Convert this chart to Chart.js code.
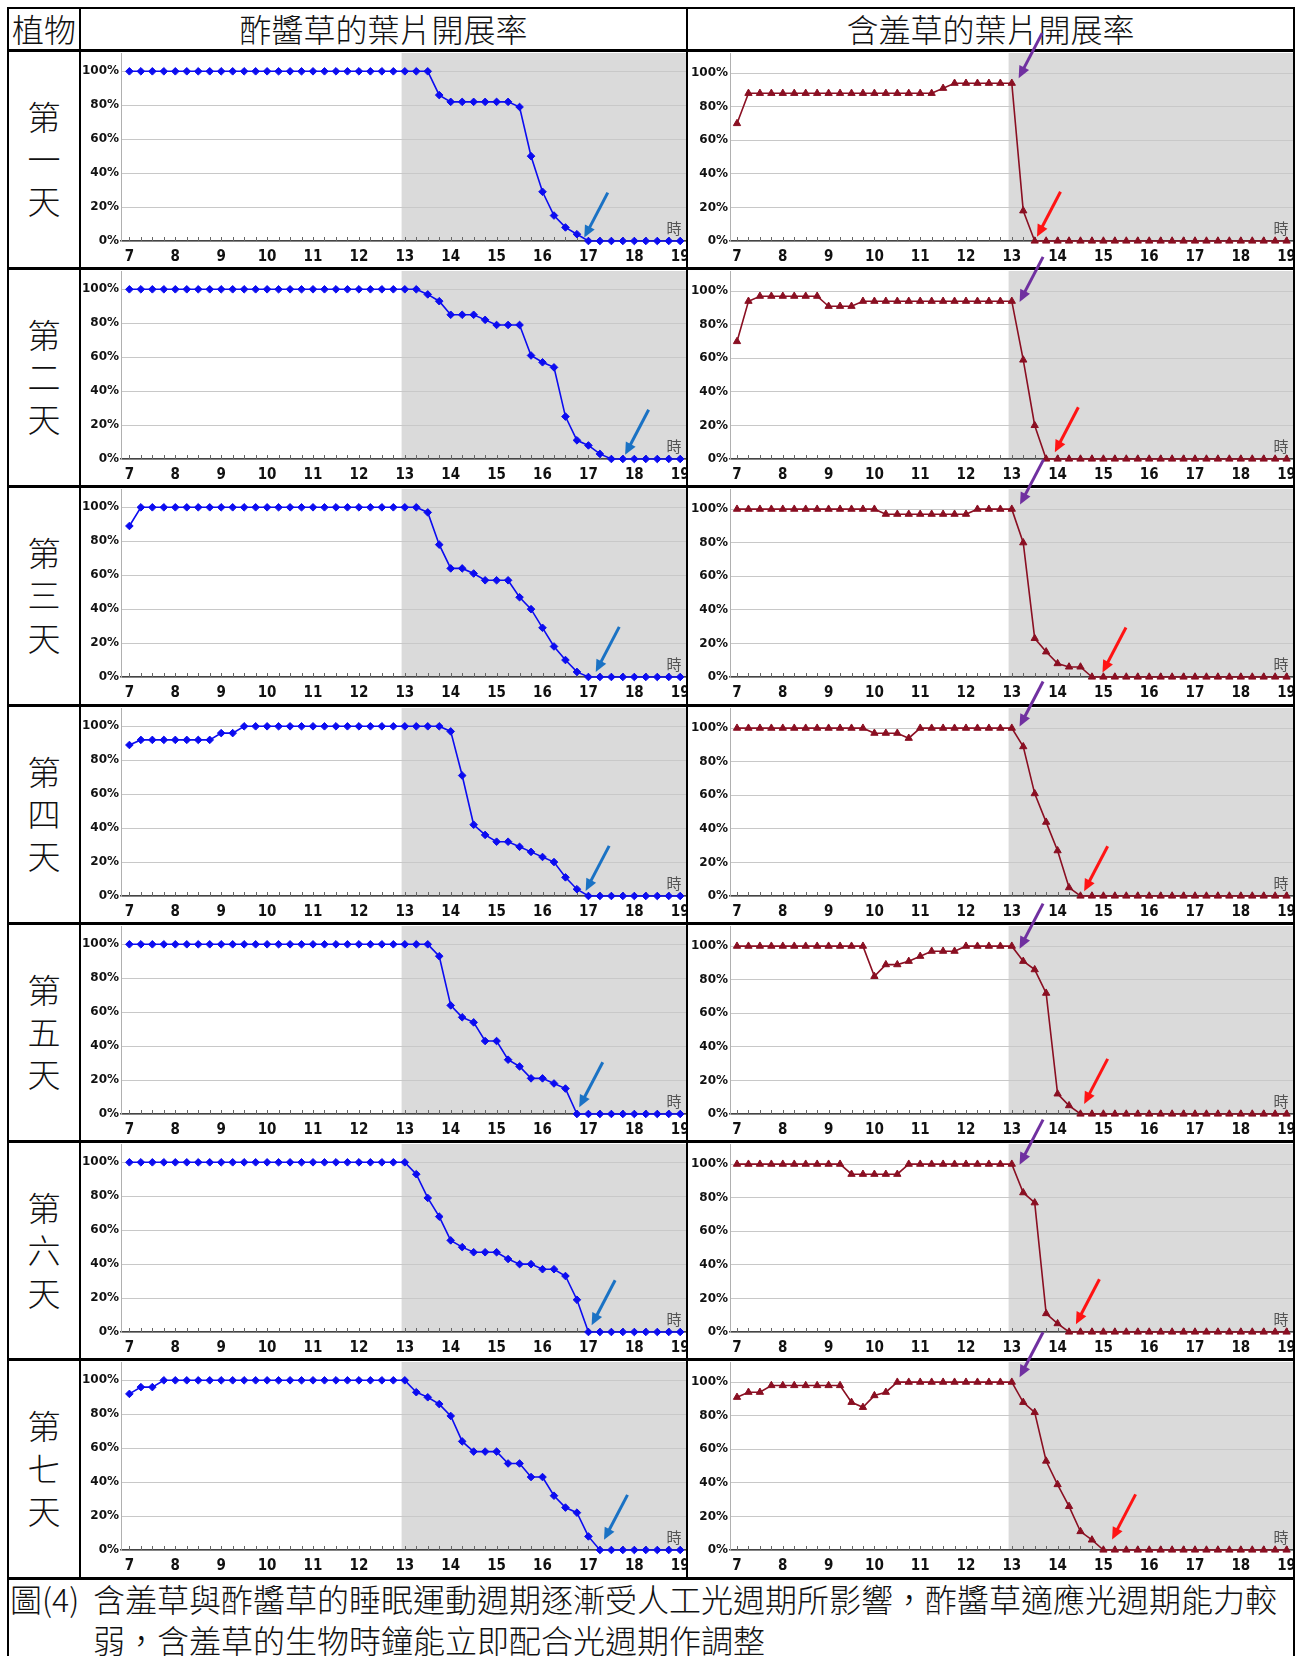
<!DOCTYPE html>
<html><head><meta charset="utf-8">
<script src="https://cdn.jsdelivr.net/npm/chart.js@4/dist/chart.umd.min.js"></script>
<style>
html,body{margin:0;padding:0;background:#fff;}
body{width:1302px;height:1656px;overflow:hidden;position:relative;font-family:"Noto Sans CJK TC","Noto Sans CJK SC",sans-serif;color:#111;font-weight:300;}
.ln{position:absolute;background:#000;}
.txt{position:absolute;text-align:center;white-space:nowrap;}
canvas.panel{position:absolute;}
#overlay{position:absolute;left:0;top:0;pointer-events:none;z-index:10;}
</style></head><body>
<script>
// ---------- data ----------
const times = [7,7.25,7.5,7.75, 8,8.25,8.5,8.75, 9,9.25,9.5,9.75, 10,10.25,10.5,10.75, 11,11.25,11.5,11.75, 12,12.25,12.5,12.75, 13,13.25,13.5,13.75, 14,14.25,14.5,14.75, 15,15.25,15.5,15.75, 16,16.25,16.5,16.75, 17,17.25,17.5,17.75, 18,18.25,18.5,18.75, 19];
const xTickHours = [7,8,9,10,11,12,13,14,15,16,17,18,19];
const yTickPct = [0,20,40,60,80,100];
const darkStart = 12.93;
const plantHeader = "植物";
const colTitles = ["酢醬草的葉片開展率","含羞草的葉片開展率"];
const dayLabels = ["第一天","第二天","第三天","第四天","第五天","第六天","第七天"];
const hourUnit = "時";
const captionLabel = "圖(4)";
const captionLines = ["含羞草與酢醬草的睡眠運動週期逐漸受人工光週期所影響，酢醬草適應光週期能力較","弱，含羞草的生物時鐘能立即配合光週期作調整"];

// 酢醬草 (Oxalis) – % leaf opening, every 15 min 7:00–19:00
const oxalis1 = [100,100,100,100, 100,100,100,100, 100,100,100,100, 100,100,100,100, 100,100,100,100, 100,100,100,100, 100,100,100,86, 82,82,82,82, 82,82,79,50, 29,15,8,4, 0,0,0,0, 0,0,0,0, 0];
const oxalis2 = [100,100,100,100, 100,100,100,100, 100,100,100,100, 100,100,100,100, 100,100,100,100, 100,100,100,100, 100,100,97,93, 85,85,85,82, 79,79,79,61, 57,54,25,11, 8,3,0,0, 0,0,0,0, 0];
const oxalis3 = [89,100,100,100, 100,100,100,100, 100,100,100,100, 100,100,100,100, 100,100,100,100, 100,100,100,100, 100,100,97,78, 64,64,61,57, 57,57,47,40, 29,18,10,3, 0,0,0,0, 0,0,0,0, 0];
const oxalis4 = [89,92,92,92, 92,92,92,92, 96,96,100,100, 100,100,100,100, 100,100,100,100, 100,100,100,100, 100,100,100,100, 97,71,42,36, 32,32,29,26, 23,20,11,4, 0,0,0,0, 0,0,0,0, 0];
const oxalis5 = [100,100,100,100, 100,100,100,100, 100,100,100,100, 100,100,100,100, 100,100,100,100, 100,100,100,100, 100,100,100,93, 64,57,54,43, 43,32,28,21, 21,18,15,0, 0,0,0,0, 0,0,0,0, 0];
const oxalis6 = [100,100,100,100, 100,100,100,100, 100,100,100,100, 100,100,100,100, 100,100,100,100, 100,100,100,100, 100,93,79,68, 54,50,47,47, 47,43,40,40, 37,37,33,19, 0,0,0,0, 0,0,0,0, 0];
const oxalis7 = [92,96,96,100, 100,100,100,100, 100,100,100,100, 100,100,100,100, 100,100,100,100, 100,100,100,100, 100,93,90,86, 79,64,58,58, 58,51,51,43, 43,32,25,22, 8,0,0,0, 0,0,0,0, 0];

// 含羞草 (Mimosa)
const mimosa1 = [70,88,88,88, 88,88,88,88, 88,88,88,88, 88,88,88,88, 88,88,91,94, 94,94,94,94, 94,18,0,0, 0,0,0,0, 0,0,0,0, 0,0,0,0, 0,0,0,0, 0,0,0,0, 0];
const mimosa2 = [70,94,97,97, 97,97,97,97, 91,91,91,94, 94,94,94,94, 94,94,94,94, 94,94,94,94, 94,59,20,0, 0,0,0,0, 0,0,0,0, 0,0,0,0, 0,0,0,0, 0,0,0,0, 0];
const mimosa3 = [100,100,100,100, 100,100,100,100, 100,100,100,100, 100,97,97,97, 97,97,97,97, 97,100,100,100, 100,80,23,15, 8,6,6,0, 0,0,0,0, 0,0,0,0, 0,0,0,0, 0,0,0,0, 0];
const mimosa4 = [100,100,100,100, 100,100,100,100, 100,100,100,100, 97,97,97,94, 100,100,100,100, 100,100,100,100, 100,89,61,44, 27,5,0,0, 0,0,0,0, 0,0,0,0, 0,0,0,0, 0,0,0,0, 0];
const mimosa5 = [100,100,100,100, 100,100,100,100, 100,100,100,100, 82,89,89,91, 94,97,97,97, 100,100,100,100, 100,91,86,72, 12,5,0,0, 0,0,0,0, 0,0,0,0, 0,0,0,0, 0,0,0,0, 0];
const mimosa6 = [100,100,100,100, 100,100,100,100, 100,100,94,94, 94,94,94,100, 100,100,100,100, 100,100,100,100, 100,83,77,11, 5,0,0,0, 0,0,0,0, 0,0,0,0, 0,0,0,0, 0,0,0,0, 0];
const mimosa7 = [91,94,94,98, 98,98,98,98, 98,98,88,85, 92,94,100,100, 100,100,100,100, 100,100,100,100, 100,88,82,53, 39,26,11,6, 0,0,0,0, 0,0,0,0, 0,0,0,0, 0,0,0,0, 0];

const oxalisDays = [oxalis1,oxalis2,oxalis3,oxalis4,oxalis5,oxalis6,oxalis7];
const mimosaDays = [mimosa1,mimosa2,mimosa3,mimosa4,mimosa5,mimosa6,mimosa7];

// arrow annotations (hour, % where each arrow points)
const blueArrowHour = [16.91,17.80,17.16,16.94,16.80,17.07,17.34];
const blueArrowPct  = [2,2.5,3,3,4,4,6];
const redArrowHour  = [13.55,13.94,14.98,14.58,14.58,14.40,15.19];
const redArrowPct   = [2.5,4,2.7,2.8,6,4.6,6.3];
const purpleArrowHour = [13.15,13.17,13.18,13.17,13.17,13.17,13.17];
const purpleArrowPct  = [97,93.6,102.7,101,98.5,99.7,102.9];

// ---------- layout ----------
const W = 1302, H = 1656;
const tableL = 7, tableR = 1295, tableTop = 7;
const col1 = 79, col2 = 686;
const rowTop0 = 49.6, rowH = 218.3;
const rowTops = [0,1,2,3,4,5,6,7].map(k => rowTop0 + rowH*k);

function addLine(x,y,w,h){const d=document.createElement('div');d.className='ln';Object.assign(d.style,{left:x+'px',top:y+'px',width:w+'px',height:h+'px'});document.body.appendChild(d);}
function addText(txt,x,y,w,h,size,lh,align){const d=document.createElement('div');d.className='txt';Object.assign(d.style,{left:x+'px',top:y+'px',width:w+'px',height:h+'px',fontSize:size+'px',lineHeight:lh+'px',textAlign:align||'center'});d.innerHTML=txt;document.body.appendChild(d);return d;}

// borders
addLine(tableL, tableTop, tableR-tableL, 2);
rowTops.forEach(r => addLine(tableL, Math.round(r)-1, tableR-tableL, 3));
addLine(tableL, tableTop, 2, H);
addLine(tableR-2, tableTop, 2, H);
addLine(col1, tableTop, 2, Math.round(rowTops[7])-tableTop);
addLine(col2, tableTop, 2, Math.round(rowTops[7])-tableTop);

// header
addText(plantHeader, tableL+2, 9, col1-tableL-2, 39, 32, 39);
addText(colTitles[0], col1+2, 9, col2-col1-2, 39, 32, 39);
addText(colTitles[1], col2+2, 9, tableR-col2-4, 39, 32, 39);

// row labels
dayLabels.forEach((lab,k)=>{
  addText(lab.split('').join('<br>'), tableL+2, rowTops[k]+45, col1-tableL-2, 130, 33, 42.3);
});

// caption
addText(captionLabel, 10, 1578, 80, 41, 32, 41, 'left');
addText(captionLines.join('<br>'), 93, 1578, 1200, 82, 32, 41, 'left');

// ---------- charts ----------
Chart.defaults.font.family = "DejaVu Sans";
const xTickFont = {family:"'Liberation Sans Narrow', 'DejaVu Sans Condensed', 'DejaVu Sans'", weight:'bold', size:15};
const yTickFont = {family:"DejaVu Sans", weight:'bold', size:12};

const shadePlugin = {
  id:'shade',
  beforeDraw(chart){
    const {ctx, chartArea:a, scales:{x}} = chart;
    const x0 = x.getPixelForValue(darkStart);
    ctx.save(); ctx.fillStyle = '#dadada';
    ctx.fillRect(x0, 0, a.right - x0, a.bottom);
    ctx.restore();
  },
  beforeDatasetsDraw(chart){
    const {ctx, chartArea:a, scales:{x}} = chart;
    ctx.save(); ctx.strokeStyle = '#666'; ctx.lineWidth = 1;
    times.forEach(t=>{
      const px = Math.round(x.getPixelForValue(t))+0.5;
      ctx.beginPath(); ctx.moveTo(px, a.bottom); ctx.lineTo(px, a.bottom-4); ctx.stroke();
    });
    ctx.restore();
  },
  afterDraw(chart){
    const {ctx, chartArea:a} = chart;
    ctx.save(); ctx.fillStyle = '#555'; ctx.font = '15px "Noto Sans CJK TC"';
    ctx.textAlign = 'center'; ctx.textBaseline = 'middle';
    ctx.fillText(hourUnit, a.right - 12, a.bottom - 13);
    ctx.restore();
  }
};

const CW = 605, CH = 213, AXIS_Y = 188;
function makeChart(left, top, values, isOxalis){
  const cv = document.createElement('canvas');
  cv.className = 'panel'; cv.width = CW; cv.height = CH;
  cv.style.left = left+'px'; cv.style.top = top+'px';
  cv.style.width = CW+'px'; cv.style.height = CH+'px';
  document.body.appendChild(cv);
  const color = isOxalis ? '#0c0cf0' : '#8a0f22';
  return new Chart(cv, {
    type:'line',
    data:{ datasets:[{
      data: times.map((t,i)=>({x:t, y:values[i]})),
      borderColor: color, backgroundColor: color,
      borderWidth: 1.6, tension: 0, clip: false,
      pointStyle: isOxalis ? 'rectRot' : 'triangle',
      pointRadius: isOxalis ? 3.8 : 4.2, pointBorderWidth: 1,
      pointBorderColor: color, pointBackgroundColor: color
    }]},
    options:{
      responsive:false, animation:false, events:[], devicePixelRatio:1,
      layout:{padding:0, autoPadding:false},
      plugins:{legend:{display:false}, tooltip:{enabled:false}},
      scales:{
        x:{ type:'linear', min: isOxalis ? 6.817 : 6.847, max: isOxalis ? 19.126 : 19.14,
            afterBuildTicks: s => { s.ticks = xTickHours.map(v=>({value:v})); },
            ticks:{ font:xTickFont, color:'#111', padding:7, maxRotation:0, autoSkip:false, callback:v=>String(v) },
            grid:{ display:false, drawTicks:false },
            border:{ display:true, color:'#444', width:1.5 },
            afterFit: s => { s.height = CH - AXIS_Y; s.paddingLeft = 0; s.paddingRight = 0; } },
        y:{ min:0, max: isOxalis ? 110.8 : 112,
            afterBuildTicks: s => { s.ticks = yTickPct.map(v=>({value:v})); },
            ticks:{ font:yTickFont, color:'#111', padding:2, callback:v=>v+'%' },
            grid:{ color:'#c8c8c8', lineWidth:1, drawTicks:false },
            border:{ display:true, color:'#b0b0b0', width:1 },
            afterFit: s => { s.width = isOxalis ? 40 : 42; s.paddingTop = 0; s.paddingBottom = 0; } }
      }
    },
    plugins:[shadePlugin]
  });
}

const leftCharts = [], rightCharts = [];
for (let k=0;k<7;k++){
  const top = Math.round(rowTops[k]) + 3;
  leftCharts.push({chart: makeChart(col1+2, top, oxalisDays[k], true), left: col1+2, top});
  rightCharts.push({chart: makeChart(col2+2, top, mimosaDays[k], false), left: col2+2, top});
}

// ---------- arrows overlay ----------
const ov = document.createElement('canvas');
ov.id='overlay'; ov.width=W; ov.height=H; ov.style.width=W+'px'; ov.style.height=H+'px';
document.body.appendChild(ov);
const octx = ov.getContext('2d');
function drawArrow(tx, ty, color){
  const dx = 23.5, dy = -45, len = Math.hypot(dx,dy), ux = dx/len, uy = dy/len;
  const headLen = 12, headW = 5.5;
  const bx = tx + ux*headLen, by = ty + uy*headLen;
  octx.save();
  octx.strokeStyle = color; octx.fillStyle = color; octx.lineWidth = 3;
  octx.beginPath(); octx.moveTo(tx+dx, ty+dy); octx.lineTo(bx - ux*1, by - uy*1); octx.stroke();
  octx.beginPath(); octx.moveTo(tx, ty);
  octx.lineTo(bx - uy*headW, by + ux*headW); octx.lineTo(bx + uy*headW, by - ux*headW);
  octx.closePath(); octx.fill();
  octx.restore();
}
function pt(c, h, p){ return [c.left + c.chart.scales.x.getPixelForValue(h), c.top + c.chart.scales.y.getPixelForValue(p)]; }
for (let k=0;k<7;k++){
  let [x,y] = pt(leftCharts[k], blueArrowHour[k], blueArrowPct[k]); drawArrow(x,y,'#1a72c4');
  [x,y] = pt(rightCharts[k], redArrowHour[k], redArrowPct[k]); drawArrow(x,y,'#ff1414');
  [x,y] = pt(rightCharts[k], purpleArrowHour[k], purpleArrowPct[k]); drawArrow(x,y,'#7030a0');
}
</script>
</body></html>
